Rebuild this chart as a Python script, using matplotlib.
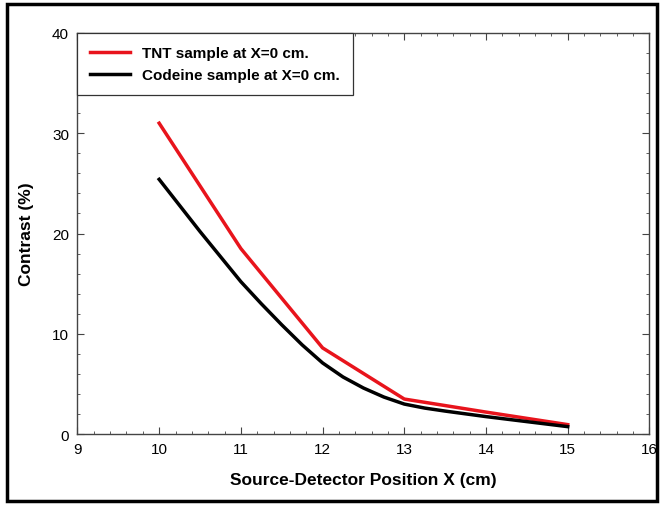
import matplotlib
matplotlib.use('Agg')
import matplotlib.pyplot as plt
from matplotlib.patches import Rectangle
from matplotlib.ticker import MultipleLocator

plt.rcParams['font.family'] = ['Liberation Sans', 'DejaVu Sans']

# values
tnt_x = [10, 11, 12, 13, 14, 15]
tnt_y = [31.0, 18.5, 8.6, 3.5, 2.2, 0.95]

cod_x = [10, 10.25, 10.5, 10.75, 11, 11.25, 11.5, 11.75, 12, 12.25, 12.5, 12.75,
         13, 13.25, 13.5, 14, 14.5, 15]
cod_y = [25.4, 22.8, 20.2, 17.7, 15.2, 13.0, 10.9, 8.9, 7.1, 5.7, 4.6, 3.7,
         3.0, 2.6, 2.3, 1.75, 1.25, 0.75]

labels = ['TNT sample at X=0 cm.', 'Codeine sample at X=0 cm.']

fig = plt.figure(figsize=(6.62, 5.06), dpi=100)
ax = fig.add_axes([0.117, 0.140, 0.864, 0.793])

ax.plot(tnt_x, tnt_y, color='#e8141c', lw=2.5, label=labels[0])
ax.plot(cod_x, cod_y, color='black', lw=2.5, label=labels[1])

ax.set_xlim(9, 16)
ax.set_ylim(0, 40)
ax.xaxis.set_major_locator(MultipleLocator(1))
ax.xaxis.set_minor_locator(MultipleLocator(0.2))
ax.yaxis.set_major_locator(MultipleLocator(10))
ax.yaxis.set_minor_locator(MultipleLocator(2))
ax.tick_params(which='both', direction='in', top=True, right=True,
               color='#444444', labelsize=11, pad=6)
ax.tick_params(which='major', length=5)
ax.tick_params(which='minor', length=2.5)
for s in ax.spines.values():
    s.set_color('#444444')
    s.set_linewidth(1.0)

ax.set_xlabel('Source-Detector Position X (cm)', fontsize=12.5,
              fontweight='bold', labelpad=11)
ax.set_ylabel('Contrast (%)', fontsize=12.5, fontweight='bold', labelpad=13)

leg = ax.legend(loc='upper left', bbox_to_anchor=(0, 1), borderaxespad=0,
                fancybox=False, framealpha=1, edgecolor='#333333',
                prop={'weight': 'bold', 'size': 11}, handlelength=2.6,
                borderpad=0.85, labelspacing=0.55)
leg.get_frame().set_linewidth(0.9)

# outer frame around the whole figure
fig.patches.append(Rectangle((0.011, 0.008), 0.982, 0.983, transform=fig.transFigure,
                             fill=False, edgecolor='black', linewidth=2.5))

fig.savefig('out.png', dpi=100)
